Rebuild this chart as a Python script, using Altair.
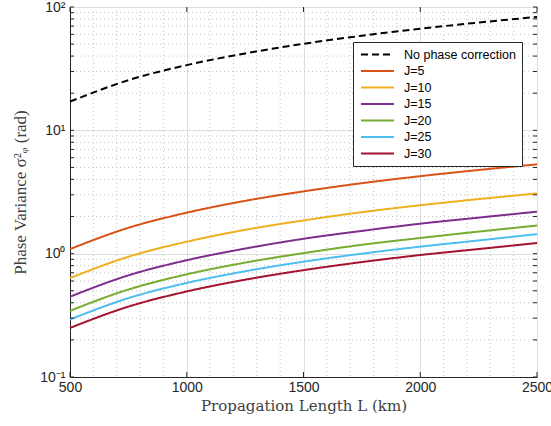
import altair as alt
import pandas as pd

# ---- data ----
L = [500, 750, 1000, 1250, 1500, 1750, 2000, 2250, 2500]
no_corr = [17.1, 25.5, 33.8, 42.0, 50.3, 58.5, 66.7, 74.8, 83.1]
j5 = [1.09, 1.62, 2.15, 2.68, 3.20, 3.73, 4.25, 4.77, 5.30]
j10 = [0.634, 0.944, 1.25, 1.56, 1.86, 2.17, 2.47, 2.77, 3.08]
j15 = [0.448, 0.667, 0.885, 1.10, 1.32, 1.53, 1.75, 1.96, 2.19]
j20 = [0.344, 0.512, 0.680, 0.846, 1.01, 1.18, 1.34, 1.51, 1.69]
j25 = [0.293, 0.436, 0.579, 0.720, 0.861, 1.00, 1.14, 1.28, 1.44]
j30 = [0.250, 0.372, 0.494, 0.615, 0.735, 0.855, 0.975, 1.09, 1.22]

series_names = ["No phase correction", "J=5", "J=10", "J=15", "J=20", "J=25", "J=30"]
series_vals = [no_corr, j5, j10, j15, j20, j25, j30]
colors = ["#000000", "#D95319", "#EDB120", "#7E2F8E", "#77AC30", "#4DBEEE", "#A2142F"]
dashes = [[7, 4], [1, 0], [1, 0], [1, 0], [1, 0], [1, 0], [1, 0]]

x_major = [500, 1000, 1500, 2000, 2500]
x_minor = [v for v in range(600, 2500, 100) if v % 500 != 0]
y_major = [0.1, 1, 10, 100]
y_minor = [m * d for d in [0.1, 1, 10] for m in range(2, 10)]

W, H = 467, 370

rows = []
for name, vals in zip(series_names, series_vals):
    for x, y in zip(L, vals):
        rows.append({"L": x, "v": y, "series": name})
df = pd.DataFrame(rows)

xscale = alt.Scale(domain=[500, 2500], nice=False, zero=False)
yscale = alt.Scale(type="log", domain=[0.1, 100], nice=False)

label_expr = ("datum.value == 100 ? '10²' : datum.value == 10 ? '10¹' : "
              "datum.value == 1 ? '10⁰' : '10⁻¹'")

grid_c = "#dedede"
tick_c = "#262626"

xminor_df = pd.DataFrame({"x": x_minor})
yminor_df = pd.DataFrame({"y": y_minor})
xmajor_df = pd.DataFrame({"x": x_major})
yall_df = pd.DataFrame({"y": y_minor + y_major})

xgrid_minor = alt.Chart(xminor_df).mark_rule(color="#c4c4c4", strokeDash=[1, 3], strokeWidth=1).encode(
    x=alt.X("x:Q", scale=xscale))
ygrid_minor = alt.Chart(yminor_df).mark_rule(color="#c4c4c4", strokeDash=[1, 3], strokeWidth=1).encode(
    y=alt.Y("y:Q", scale=yscale))

# inward tick marks (MATLAB style, box on)
yt_left = alt.Chart(yall_df).mark_rule(color=tick_c, strokeWidth=1).encode(
    y=alt.Y("y:Q", scale=yscale), x=alt.value(0), x2=alt.value(4))
yt_right = alt.Chart(yall_df).mark_rule(color=tick_c, strokeWidth=1).encode(
    y=alt.Y("y:Q", scale=yscale), x=alt.value(W), x2=alt.value(W - 4))
xt_bot = alt.Chart(xmajor_df).mark_rule(color=tick_c, strokeWidth=1).encode(
    x=alt.X("x:Q", scale=xscale), y=alt.value(H), y2=alt.value(H - 5))
xt_top = alt.Chart(xmajor_df).mark_rule(color=tick_c, strokeWidth=1).encode(
    x=alt.X("x:Q", scale=xscale), y=alt.value(0), y2=alt.value(5))

lines = alt.Chart(df).mark_line(strokeWidth=2, interpolate="monotone").encode(
    x=alt.X("L:Q", scale=xscale,
            axis=alt.Axis(values=x_major, title="Propagation Length L (km)", format="d",
                          grid=True, gridColor=grid_c, ticks=False, labelPadding=3,
                          labelFlush=False, titlePadding=4)),
    y=alt.Y("v:Q", scale=yscale,
            axis=alt.Axis(values=y_major, labelExpr=label_expr, title="Phase Variance σ²ᵩ (rad)",
                          grid=True, gridColor=grid_c, ticks=False, labelPadding=5,
                          titleX=-50, titleY=185, titleBaseline="middle", titleAngle=270,
                          titleAlign="center", titleFont="Liberation Serif", titleFontSize=17)),
    color=alt.Color("series:N", scale=alt.Scale(domain=series_names, range=colors),
                    legend=alt.Legend(title=None)),
    strokeDash=alt.StrokeDash("series:N", scale=alt.Scale(domain=series_names, range=dashes),
                              legend=alt.Legend(title=None)),
)

chart = alt.layer(xgrid_minor, ygrid_minor, lines, yt_left, yt_right, xt_bot, xt_top).properties(
    width=W, height=H,
    autosize=alt.AutoSizeParams(type="none"),
    padding={"left": 70, "top": 7, "right": 14, "bottom": 49},
).configure_view(
    stroke=tick_c, strokeWidth=1
).configure_axis(
    labelFont="Liberation Sans", labelFontSize=14, labelColor=tick_c,
    titleFont="DejaVu Serif", titleFontSize=15, titleFontWeight="normal", titleColor="#404040",
    domainColor=tick_c,
).configure_legend(
    orient="none", legendX=283, legendY=35,
    fillColor="white", strokeColor=tick_c, padding=6,
    labelFont="Liberation Sans", labelFontSize=12.5, labelColor="#000000",
    symbolType="M-3,0H3", symbolSize=121, symbolStrokeWidth=2,
    rowPadding=3.5, labelOffset=20, symbolOffset=12, cornerRadius=0,
)

chart.save("out.html", embed_options={"renderer": "svg", "actions": False})
